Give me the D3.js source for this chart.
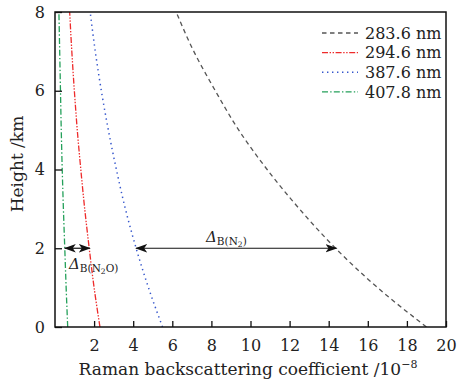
<!DOCTYPE html>
<html><head><meta charset="utf-8">
<script src="https://cdn.jsdelivr.net/npm/d3@7"></script>
<style>
html,body{margin:0;padding:0;background:#fff;}
svg{display:block;font-family:"DejaVu Serif",serif;}
</style></head>
<body>
<svg id="c" width="459" height="382"></svg>
<script>
const heights = [0, 1, 2, 3, 4, 5, 6, 7, 8];
const s2836 = [19.0, 16.5, 14.35, 12.5, 10.85, 9.4, 8.2, 7.1, 6.2];
const s2946 = [2.3, 2.0, 1.75, 1.52, 1.32, 1.14, 0.99, 0.86, 0.75];
const s3876 = [5.5, 4.78, 4.15, 3.6, 3.14, 2.73, 2.37, 2.06, 1.8];
const s4078 = [0.65, 0.57, 0.5, 0.43, 0.37, 0.32, 0.28, 0.24, 0.2];
const seriesNames = ["283.6 nm", "294.6 nm", "387.6 nm", "407.8 nm"];
const xTicks = [2, 4, 6, 8, 10, 12, 14, 16, 18, 20];
const yTicks = [0, 2, 4, 6, 8];
const arrowHeight = 2;
const arrowN2O = [0.5, 1.78];
const arrowN2 = [4.15, 14.4];

const styles = [
  {color:"#555555", dash:"4.5,3.5", w:1.3},
  {color:"#ee2b2b", dash:"6,1.6,1.4,1.6,1.4,1.6", w:1.3},
  {color:"#3556cc", dash:"1.4,3.6", w:1.5},
  {color:"#24a05a", dash:"6,2.2,1.4,2.2", w:1.3}
];
const seriesVals = [s2836, s2946, s3876, s4078];

const svg = d3.select("#c");
const m = {l:55, r:13, t:12, b:55};
const W = 459, H = 382;
const x = d3.scaleLinear().domain([0,20]).range([m.l, W-m.r]);
const y = d3.scaleLinear().domain([0,8]).range([H-m.b, m.t]);

svg.append("defs").append("clipPath").attr("id","clip")
  .append("rect").attr("x",m.l).attr("y",m.t).attr("width",W-m.r-m.l).attr("height",H-m.b-m.t);

const defs = svg.select("defs");
defs.append("marker").attr("id","ah").attr("viewBox","0 0 12 10")
  .attr("refX",11).attr("refY",5).attr("markerWidth",12).attr("markerHeight",10)
  .attr("markerUnits","userSpaceOnUse").attr("orient","auto-start-reverse")
  .append("path").attr("d","M0,0.8 L12,5 L0,9.2 L3,5 Z").attr("fill","#111");

// curves
const line = d3.line().x(d=>x(d[0])).y(d=>y(d[1])).curve(d3.curveMonotoneY);
const g = svg.append("g").attr("clip-path","url(#clip)");
seriesVals.forEach((vals,i)=>{
  const pts = vals.map((v,j)=>[v, heights[j]]);
  g.append("path").attr("d", line(pts)).attr("fill","none")
    .attr("stroke", styles[i].color).attr("stroke-width", styles[i].w)
    .attr("stroke-dasharray", styles[i].dash);
});

// axes
const xAxis = d3.axisBottom(x).tickValues(xTicks).tickSizeInner(-6).tickSizeOuter(0).tickPadding(12).tickFormat(d3.format("d"));
const yAxis = d3.axisLeft(y).tickValues(yTicks).tickSizeInner(-7).tickSizeOuter(0).tickPadding(10).tickFormat(d3.format("d"));
const gx = svg.append("g").attr("transform",`translate(0,${H-m.b})`).call(xAxis);
const gy = svg.append("g").attr("transform",`translate(${m.l},0)`).call(yAxis);
[gx,gy].forEach(a=>{
  a.select(".domain").remove();
  a.selectAll(".tick line").attr("stroke","#111").attr("stroke-width",1.3);
  a.selectAll(".tick text").attr("fill","#222").style("font-size","16px").style("font-family","DejaVu Serif");
});
gx.selectAll(".tick text").attr("dy","0.75em");
// frame
svg.append("rect").attr("x",m.l).attr("y",m.t).attr("width",W-m.r-m.l).attr("height",H-m.b-m.t)
  .attr("fill","none").attr("stroke","#111").attr("stroke-width",1.5);

// axis titles
const xt = svg.append("text").attr("x",(73+423)/2).attr("y",375).attr("text-anchor","middle")
  .style("font-size","17px").attr("fill","#222");
xt.append("tspan").text("Raman backscattering coefficient /10");
xt.append("tspan").text("−8").attr("dy",-7).style("font-size","11px");
svg.append("text").attr("transform","translate(23,164) rotate(-90)").attr("text-anchor","middle")
  .style("font-size","17px").attr("fill","#222").text("Height /km");

// legend
seriesNames.forEach((n,i)=>{
  const ly = 33 + i*19.6;
  svg.append("line").attr("x1",322).attr("x2",358).attr("y1",ly).attr("y2",ly)
    .attr("stroke",styles[i].color).attr("stroke-width",styles[i].w).attr("stroke-dasharray",styles[i].dash);
  svg.append("text").attr("x",365).attr("y",ly).attr("dy","0.36em").style("font-size","16px")
    .attr("fill","#222").text(n);
});

// arrows
function arrow(a){
  svg.append("line").attr("x1",x(a[0])).attr("x2",x(a[1])).attr("y1",y(arrowHeight)).attr("y2",y(arrowHeight))
    .attr("stroke","#111").attr("stroke-width",1.2)
    .attr("marker-start","url(#ah)").attr("marker-end","url(#ah)");
}
arrow(arrowN2O);
arrow(arrowN2);
// left tick extension at height 2 already; labels
function delta(xp, yp, sub1, sub2){
  const t = svg.append("text").attr("x",xp).attr("y",yp).attr("fill","#222");
  t.append("tspan").text("Δ").style("font-size","15px").style("font-style","italic");
  t.append("tspan").text("B(N").style("font-size","10.5px").attr("dy",3);
  t.append("tspan").text("2").style("font-size","7.5px").attr("dy",2);
  t.append("tspan").text(sub2).style("font-size","10.5px").attr("dy",-2);
}
delta(69, 269, "B(N", "O)");
delta(206, 242, "B(N", ")");
</script>
</body></html>
